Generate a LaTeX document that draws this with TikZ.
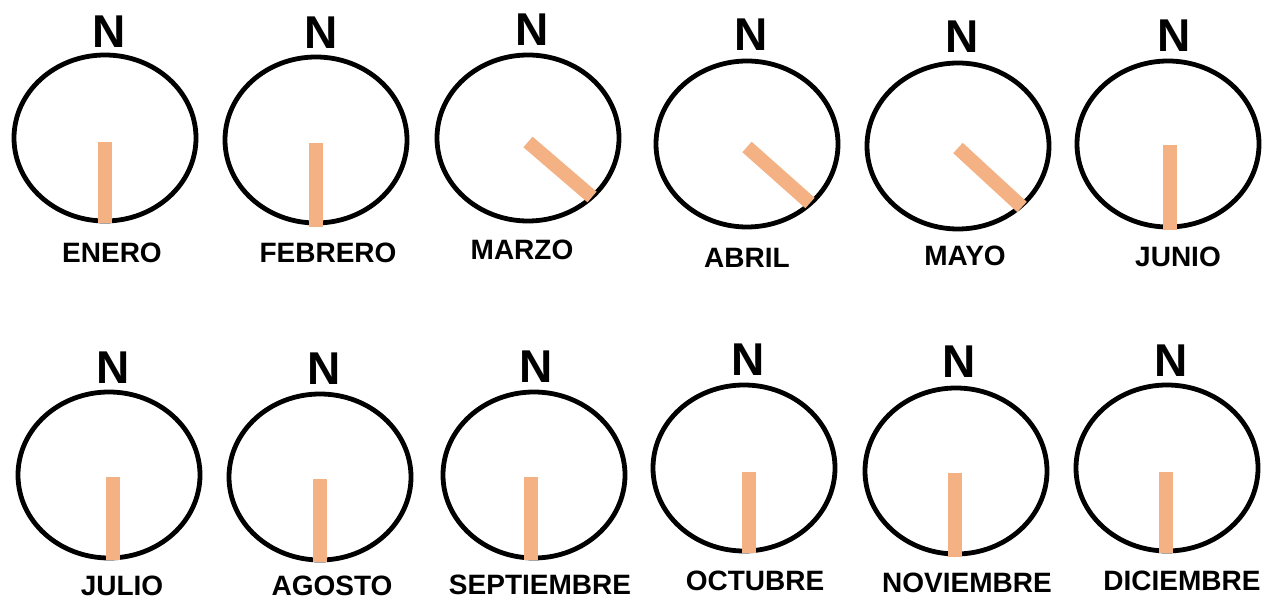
\documentclass[tikz,border=0pt]{standalone}
\usepackage{fontspec}
\setmainfont{Liberation Sans}
\usetikzlibrary{shapes.geometric}
\definecolor{handcol}{HTML}{F4B183}
\begin{document}
\begin{tikzpicture}[x=1pt,y=-1pt,
  dial/.style={draw=black,line width=4.8pt,ellipse,minimum width=182pt,minimum height=166pt,inner sep=0pt},
  hand/.style={draw=handcol,line width=14pt,line cap=butt},
  northlbl/.style={font=\bfseries\fontsize{46}{46}\selectfont,inner sep=0pt},
  monthlbl/.style={font=\bfseries\fontsize{28}{28}\selectfont,inner sep=0pt}]
\useasboundingbox[fill=white] (0,0) rectangle (1264,601);
% top row
\node[dial] (d1) at (105,138) {};
\node[dial] (d2) at (316,140) {};
\node[dial] (d3) at (528,138) {};
\node[dial] (d4) at (747,144) {};
\node[dial] (d5) at (958,146) {};
\node[dial] (d6) at (1168,144) {};
% bottom row
\node[dial] (d7) at (109,475) {};
\node[dial] (d8) at (320,477) {};
\node[dial] (d9) at (534,475) {};
\node[dial] (d10) at (744,468) {};
\node[dial] (d11) at (956,471) {};
\node[dial] (d12) at (1167,468) {};
% hands
\coordinate (h1a) at (104.5,142); \coordinate (h1b) at (104.5,223);
\coordinate (h2a) at (316,143); \coordinate (h2b) at (316,227);
\coordinate (h3a) at (528,142); \coordinate (h3b) at (592,197);
\coordinate (h4a) at (747,147); \coordinate (h4b) at (810,203);
\coordinate (h5a) at (958,148); \coordinate (h5b) at (1022,207);
\coordinate (h6a) at (1170,145); \coordinate (h6b) at (1170,230);
\coordinate (h7a) at (113,477); \coordinate (h7b) at (113,560);
\coordinate (h8a) at (320,479); \coordinate (h8b) at (320,562);
\coordinate (h9a) at (531,477); \coordinate (h9b) at (531,560);
\coordinate (h10a) at (749,472); \coordinate (h10b) at (749,553);
\coordinate (h11a) at (955,473); \coordinate (h11b) at (955,557);
\coordinate (h12a) at (1166,472); \coordinate (h12b) at (1166,553);
\foreach \i in {1,...,12} {\draw[hand] (h\i a) -- (h\i b);}
% north labels
\node[northlbl] (n1) at (109,32) {N};
\node[northlbl] (n2) at (321,33) {N};
\node[northlbl] (n3) at (532,30) {N};
\node[northlbl] (n4) at (751,35) {N};
\node[northlbl] (n5) at (962,37) {N};
\node[northlbl] (n6) at (1174,36) {N};
\node[northlbl] (n7) at (113,368) {N};
\node[northlbl] (n8) at (324,369) {N};
\node[northlbl] (n9) at (536,367) {N};
\node[northlbl] (n10) at (748,360) {N};
\node[northlbl] (n11) at (959,362) {N};
\node[northlbl] (n12) at (1171,361) {N};
% month labels
\node[monthlbl] (m1) at (112,253) {ENERO};
\node[monthlbl] (m2) at (328,253) {FEBRERO};
\node[monthlbl] (m3) at (522,250) {MARZO};
\node[monthlbl] (m4) at (747,258) {ABRIL};
\node[monthlbl] (m5) at (965,256) {MAYO};
\node[monthlbl] (m6) at (1178,257) {JUNIO};
\node[monthlbl] (m7) at (122,586) {JULIO};
\node[monthlbl] (m8) at (332,586) {AGOSTO};
\node[monthlbl] (m9) at (540,585) {SEPTIEMBRE};
\node[monthlbl] (m10) at (755,581) {OCTUBRE};
\node[monthlbl] (m11) at (967,583) {NOVIEMBRE};
\node[monthlbl] (m12) at (1182,581) {DICIEMBRE};
\end{tikzpicture}
\end{document}
